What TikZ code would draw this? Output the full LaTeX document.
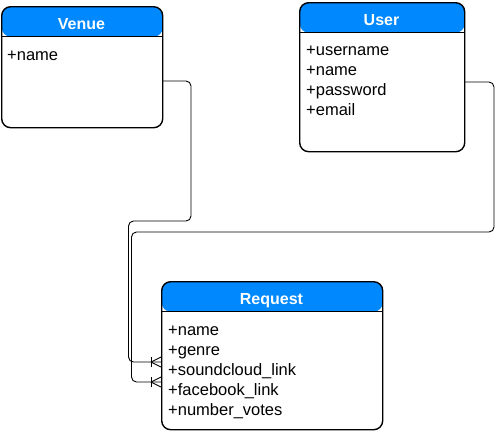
\documentclass[tikz,border=0pt]{standalone}
\usepackage{fontspec}
\setmainfont{Liberation Sans}
\definecolor{hdr}{RGB}{0,136,255}
\tikzset{
  entity/.style={draw=black, line width=1.4pt, rounded corners=9pt, anchor=north west, inner sep=0pt,
    path picture={\fill[hdr] (path picture bounding box.north west) rectangle ([yshift=-30pt]path picture bounding box.north east);
      \draw[line width=1.2pt] ([yshift=-30pt]path picture bounding box.north west) -- ([yshift=-30pt]path picture bounding box.north east);}},
  etitle/.style={anchor=base, text=white, font=\fontsize{16}{19}\selectfont\bfseries, inner sep=0pt},
  erow/.style={anchor=base west, font=\fontsize{16.5}{20}\selectfont, inner sep=0pt},
  conn/.style={draw=black, line width=0.9pt, rounded corners=5pt},
  foot/.style={draw=black, line width=0.9pt},
}
\begin{document}
\begin{tikzpicture}[x=1pt,y=-1pt]
\useasboundingbox (0,0) rectangle (504,432);
% entities
\node[entity, minimum width=161pt, minimum height=121pt] (venue) at (1,6) {};
\node[etitle] (venuet) at (81.5,29.5) {Venue};
\node[erow] (venuer1) at (7,60) {+name};

\node[entity, minimum width=165pt, minimum height=149pt] (user) at (299,2) {};
\node[etitle] (usert) at (381.5,25) {User};
\node[erow] (userr1) at (306,55) {+username};
\node[erow] (userr2) at (306,75) {+name};
\node[erow] (userr3) at (306,95) {+password};
\node[erow] (userr4) at (306,115) {+email};

\node[entity, minimum width=221pt, minimum height=148pt] (request) at (161,281) {};
\node[etitle] (requestt) at (271.5,304) {Request};
\node[erow] (reqr1) at (168,335) {+name};
\node[erow] (reqr2) at (168,355) {+genre};
\node[erow] (reqr3) at (168,375) {+soundcloud\_link};
\node[erow] (reqr4) at (168,395) {+facebook\_link};
\node[erow] (reqr5) at (168,415) {+number\_votes};

% connector end points
\coordinate (v0) at (162,81);
\coordinate (r1) at (161,362);
\coordinate (u0) at (464,82);
\coordinate (r2) at (161,382);

\draw[conn] (v0) -- (191,81) -- (191,221) -- (128.5,221) -- (128.5,362) -- (r1);
\draw[conn] (u0) -- (494,82) -- (494,232) -- (131.5,232) -- (131.5,382) -- (r2);

% crow's feet
\foreach \c in {r1,r2}{
  \draw[foot] ([xshift=-10pt,yshift=-5pt]\c) -- ([xshift=-10pt,yshift=5pt]\c);
  \draw[foot] ([xshift=-10pt]\c) -- ([yshift=-5pt]\c);
  \draw[foot] ([xshift=-10pt]\c) -- ([yshift=5pt]\c);
}
\end{tikzpicture}
\end{document}
